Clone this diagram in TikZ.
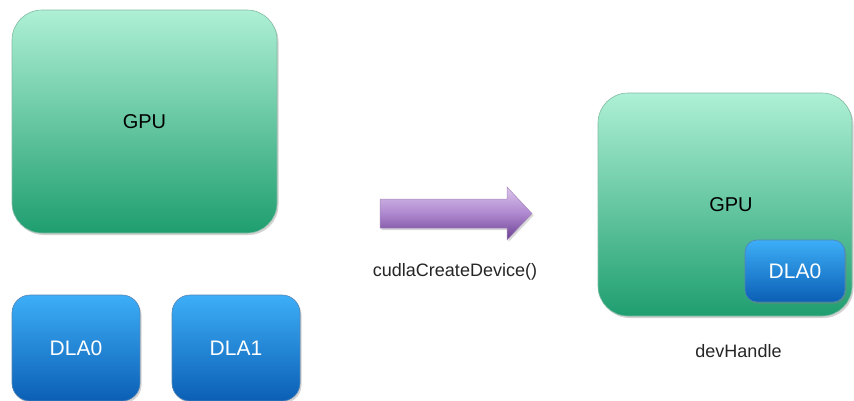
\documentclass[tikz,border=0pt]{standalone}
\usepackage{fontspec}
\setmainfont{Liberation Sans}
\usetikzlibrary{shadows}
\definecolor{gtop}{HTML}{AEF0D5}
\definecolor{gbot}{HTML}{1F9E70}
\definecolor{gedge}{HTML}{2E8F66}
\definecolor{btop}{HTML}{3DAEF7}
\definecolor{bbot}{HTML}{0B5FB5}
\definecolor{bedge}{HTML}{0A4F95}
\definecolor{ptop}{HTML}{DCC4EC}
\definecolor{pmid}{HTML}{AE88CF}
\definecolor{pbot}{HTML}{6A3E90}
\tikzset{
  gpubox/.style={rounded corners=30pt, top color=gtop, bottom color=gbot, draw=gedge!60, line width=0.6pt,
    drop shadow={shadow xshift=1.5pt, shadow yshift=-2pt, opacity=0.35},
    font=\fontsize{20}{24}\selectfont, text=black, inner sep=0pt},
  dlabox/.style={rounded corners=18pt, top color=btop, bottom color=bbot, draw=bedge!70, line width=0.6pt,
    drop shadow={shadow xshift=1.5pt, shadow yshift=-2pt, opacity=0.35},
    font=\fontsize{21}{25}\selectfont, text=white, inner sep=0pt},
  caption/.style={font=\fontsize{18}{22}\selectfont, text=black!85, inner sep=0pt}
}
\begin{document}
\begin{tikzpicture}[x=1pt,y=-1pt]
\useasboundingbox (0,0) rectangle (854,400);
\fill[white] (0,0) rectangle (854,400);
% left side
\node[gpubox, minimum width=265pt, minimum height=223pt] (gpu) at (144.5,121.5) {GPU};
\node[dlabox, minimum width=128pt, minimum height=106pt] (dla0) at (76,348) {DLA0};
\node[dlabox, minimum width=128pt, minimum height=106pt] (dla1) at (236,348) {DLA1};
% arrow
\coordinate (atop) at (380,199);
\coordinate (abot) at (380,228);
\coordinate (atip) at (532,213.5);
\path[top color=ptop, bottom color=pbot, middle color=pmid, draw=pbot!60, line width=0.5pt,
  drop shadow={shadow xshift=1.5pt, shadow yshift=-2pt, opacity=0.3}]
  (atop) -- (507,199) -- (507,187) -- (atip) -- (507,240) -- (507,228) -- (abot) -- cycle;
\node[caption] (call) at (455,272) {cudlaCreateDevice()};
% right side
\node[gpubox, minimum width=254pt, minimum height=223pt] (gpu2) at (725,204.5) {};
\node[font=\fontsize{20}{24}\selectfont, inner sep=0pt] (gpu2txt) at (731,205) {GPU};
\node[dlabox, rounded corners=12pt, minimum width=100pt, minimum height=62pt] (dla0b) at (795,271) {DLA0};
\node[caption] (handle) at (738.5,351) {devHandle};
\end{tikzpicture}
\end{document}
